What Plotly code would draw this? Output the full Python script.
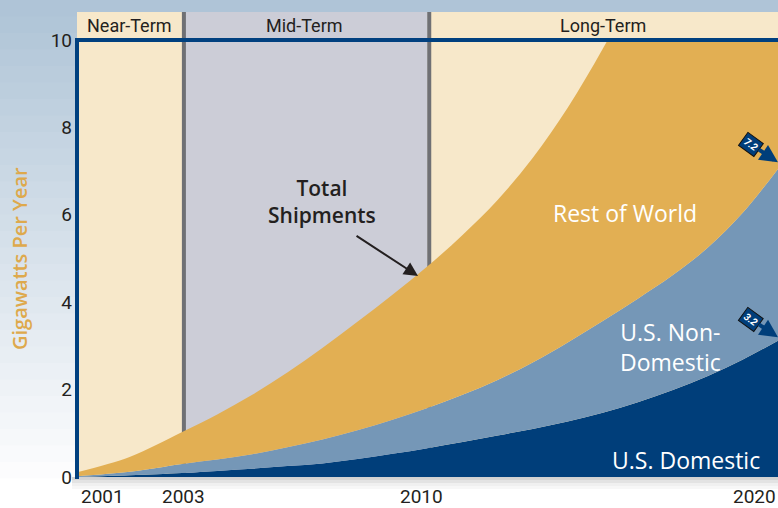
import plotly.graph_objects as go

# shipment curves (gigawatts per year)
years = list(range(2001, 2021))
world_total = [0.11, 0.46, 1.03, 1.43, 1.88, 2.39, 2.95, 3.55, 4.17, 4.82,
               5.54, 6.34, 7.3, 8.45, 9.8, 11.3, 12.95, 14.75, 16.7, 18.8]
us_total = [0.02, 0.12, 0.3, 0.4, 0.52, 0.68, 0.86, 1.07, 1.31, 1.58,
            1.88, 2.22, 2.62, 3.08, 3.57, 4.08, 4.62, 5.25, 6.05, 7.05]
us_domestic = [0.0, 0.04, 0.09, 0.14, 0.19, 0.25, 0.31, 0.41, 0.53, 0.66,
               0.8, 0.95, 1.1, 1.27, 1.47, 1.71, 1.99, 2.31, 2.69, 3.12]

period_names = ['Near-Term', 'Mid-Term', 'Long-Term']
period_edges = [2001, 2003, 2010, 2020]
tick_years = [2001, 2003, 2010, 2020]
y_ticks = [0, 2, 4, 6, 8, 10]
callout_values = [7.2, 3.2]

CREAM = '#f7e8ca'
GREY = '#cccdd7'
ORANGE = '#e2af53'
STEEL = '#7597b7'
NAVY = '#003e7a'
NARROW = 'Roboto, Liberation Sans, sans-serif'
ROUND = 'Open Sans, Lato, sans-serif'


def xpos(yr):
    # the near-term years are drawn wider than the rest
    return yr if yr >= 2003 else 2003 - 1.5 * (2003 - yr)


# pixel -> paper helpers (plot area is x 77..778, y 40..477)
def px(x):
    return (x - 77) / 701


def py(y):
    return (477 - y) / 437


def label(x, y, text, size, color, family=ROUND, weight='normal', **kw):
    return dict(x=px(x), y=py(y), xref='paper', yref='paper', text=text, showarrow=False,
                xanchor='center', yanchor='middle',
                font=dict(family=family, size=size, color=color, weight=weight), **kw)


xs = [xpos(y) for y in years]

fig = go.Figure()
fig.add_trace(go.Scatter(x=xs, y=us_domestic, mode='lines', line=dict(width=0, shape='spline', color=NAVY),
                         fill='tozeroy', fillcolor=NAVY, hoverinfo='skip'))
fig.add_trace(go.Scatter(x=xs, y=us_total, mode='lines', line=dict(width=0, shape='spline', color=STEEL),
                         fill='tonexty', fillcolor=STEEL, hoverinfo='skip'))
fig.add_trace(go.Scatter(x=xs, y=world_total, mode='lines', line=dict(width=0, shape='spline', color=ORANGE),
                         fill='tonexty', fillcolor=ORANGE, hoverinfo='skip'))

shapes = []
# page gradient
n = 30
for i in range(n):
    t = i / (n - 1)
    r = int(175 + (255 - 175) * t)
    g = int(196 + (255 - 196) * t)
    b = int(215 + (255 - 215) * t)
    y0 = 495 * i / n
    y1 = 495 * (i + 1) / n + 1
    shapes.append(dict(type='rect', xref='paper', yref='paper', x0=px(0), x1=px(778),
                       y0=py(y1), y1=py(y0), line_width=0, fillcolor=f'rgb({r},{g},{b})', layer='below'))
# soft shadow under the plot
for k, a in enumerate([0.22, 0.14, 0.08, 0.04]):
    shapes.append(dict(type='rect', xref='paper', yref='paper', x0=px(72), x1=px(778),
                       y0=py(477 + 3 * (k + 1)), y1=py(477 + 3 * k), line_width=0,
                       fillcolor=f'rgba(60,60,60,{a})', layer='below'))
# period backgrounds + header boxes
colors = [CREAM, GREY, CREAM]
for i, name in enumerate(period_names):
    x0, x1 = xpos(period_edges[i]), xpos(period_edges[i + 1])
    shapes.append(dict(type='rect', xref='x', yref='paper', x0=x0, x1=x1, y0=0, y1=1,
                       line_width=0, fillcolor=colors[i], layer='below'))
    shapes.append(dict(type='rect', xref='x', yref='paper', x0=x0, x1=x1, y0=py(38), y1=py(12),
                       line_width=0, fillcolor=colors[i], layer='below'))
for e in period_edges[1:3]:
    shapes.append(dict(type='line', xref='x', yref='paper', x0=xpos(e) + 0.05, x1=xpos(e) + 0.05,
                       y0=0, y1=py(12), line=dict(color='#6f7074', width=4), layer='below'))
# frame
shapes.append(dict(type='line', xref='paper', yref='paper', x0=px(75), x1=px(778), y0=py(40), y1=py(40),
                   line=dict(color='#00407f', width=4), layer='above'))
shapes.append(dict(type='line', xref='paper', yref='paper', x0=px(77), x1=px(77), y0=py(479), y1=py(38),
                   line=dict(color='#00407f', width=4), layer='above'))

ann = []
for i, name in enumerate(period_names):
    mid = (xpos(period_edges[i]) + xpos(period_edges[i + 1])) / 2
    ann.append(dict(x=mid, y=py(25), xref='x', yref='paper', text=name, showarrow=False,
                    xanchor='center', yanchor='middle',
                    font=dict(family=NARROW, size=18, color='#231f20')))
tick_anchor = ['left', 'center', 'center', 'right']
tick_shift = [2, 1, -6, 0]
for yr, anc, sh in zip(tick_years, tick_anchor, tick_shift):
    ann.append(dict(x=xpos(yr), y=py(496), xref='x', yref='paper', text=str(yr), showarrow=False,
                    xanchor=anc, yanchor='middle', xshift=sh,
                    font=dict(family=NARROW, size=19, color='#231f20')))
ann.append(label(19, 259, 'Gigawatts Per Year', 20, '#dea94c', weight=600, textangle=-90))
ann.append(label(322, 201, 'Total<br>Shipments', 21, '#231f20', weight=600, align='center'))
ann.append(dict(x=xpos(2009.73), y=4.6, xref='x', yref='y', text='', showarrow=True, ax=-63, ay=-41,
                arrowhead=2, arrowsize=1.4, arrowwidth=2, arrowcolor='#231f20', standoff=0))
ann.append(label(625, 213, 'Rest of World', 23, 'white'))
ann.append(label(670, 347, 'U.S. Non-<br>Domestic', 23, 'white', align='center'))
ann.append(label(686, 460, 'U.S. Domestic', 23, 'white'))
for v in callout_values:
    ann.append(dict(x=xpos(2020), y=v, xref='x', yref='y', text=f'<b><i>{v}</i></b>', showarrow=True,
                    ax=-27, ay=-18, textangle=36, bgcolor=NAVY, bordercolor='#111', borderwidth=1,
                    borderpad=2, font=dict(family=NARROW, size=10, color='white'),
                    arrowhead=2, arrowsize=0.9, arrowwidth=4, arrowcolor=NAVY, standoff=0))

fig.update_layout(
    width=778, height=508,
    margin=dict(l=77, r=0, t=40, b=31),
    paper_bgcolor='white', plot_bgcolor='rgba(0,0,0,0)',
    showlegend=False, hovermode=False,
    shapes=shapes, annotations=ann,
    xaxis=dict(range=[xpos(2001), xpos(2020)], showticklabels=False, showgrid=False,
               zeroline=False, showline=False, fixedrange=True),
    yaxis=dict(range=[0, 10], tickvals=y_ticks, showgrid=False, zeroline=False, showline=False,
               ticks='', ticklabelstandoff=4,
               tickfont=dict(family=NARROW, size=19, color='#231f20'), fixedrange=True),
)

# page body has a default 8px margin; drop it so the chart sits flush
fig.write_html('out.html', config={'displayModeBar': False},
               post_script="document.body.style.margin='0';")
